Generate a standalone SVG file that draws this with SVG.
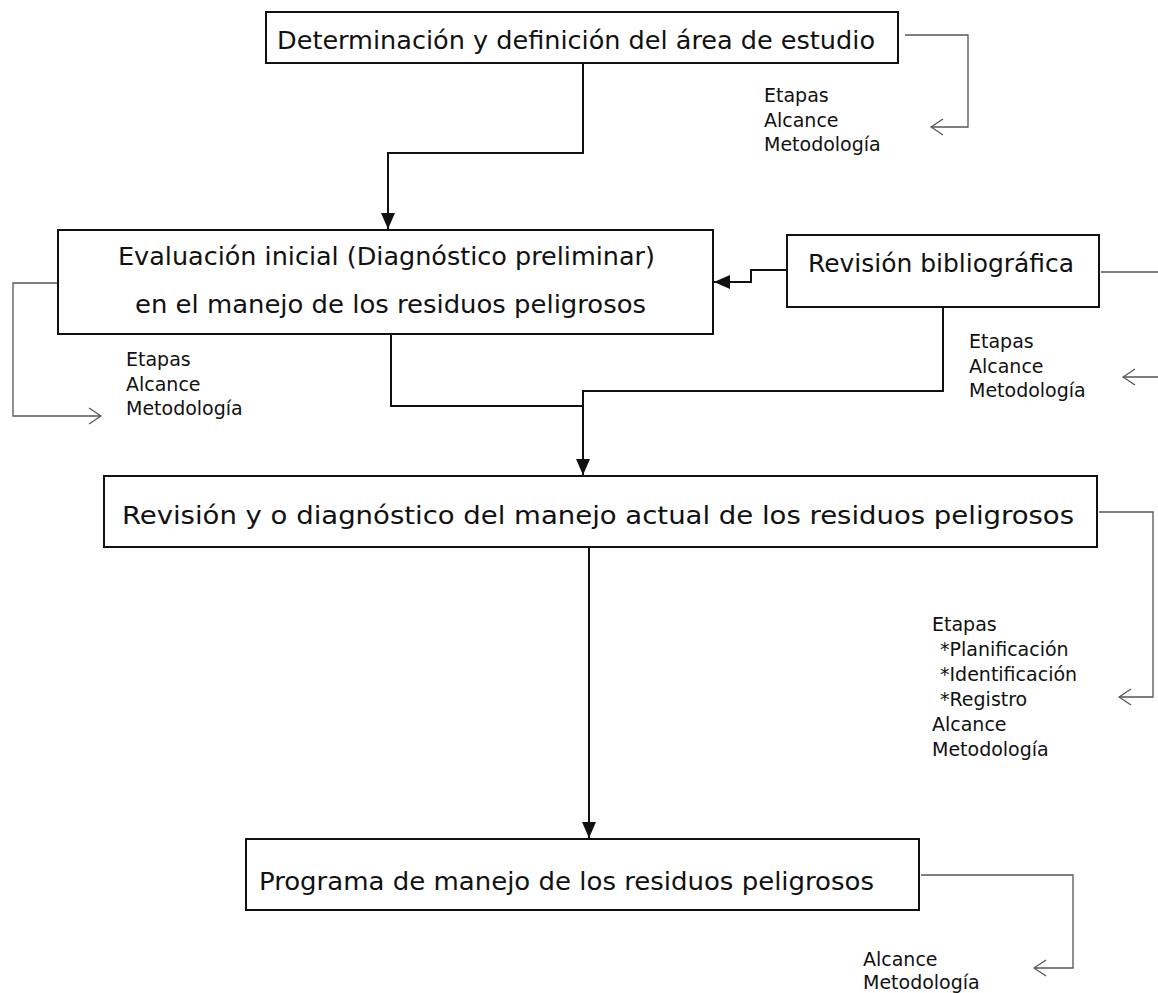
<svg xmlns="http://www.w3.org/2000/svg" width="1158" height="993" viewBox="0 0 1158 993">
<style>
.box{fill:#fff;stroke:#111;stroke-width:2}
.main{fill:none;stroke:#111;stroke-width:2}
.thin{fill:none;stroke:#555;stroke-width:1.3}
.t{font-family:"DejaVu Sans","Verdana",sans-serif;fill:#111}
.tc{font-family:"DejaVu Sans","Verdana",sans-serif;font-stretch:condensed;fill:#111;font-size:24px}
.lb{font-family:"DejaVu Sans","Verdana",sans-serif;fill:#111;font-size:19px}
</style>
<defs>
<marker id="fa" viewBox="0 0 16 14" refX="16" refY="7" markerWidth="16" markerHeight="14" markerUnits="userSpaceOnUse" orient="auto">
<path d="M0,0 L16,7 L0,14 z" fill="#111"/>
</marker>
<marker id="oa" viewBox="0 0 14 18" refX="13" refY="9" markerWidth="14" markerHeight="18" markerUnits="userSpaceOnUse" orient="auto">
<path d="M1,1 L13,9 L1,17" fill="none" stroke="#555" stroke-width="1.3"/>
</marker>
</defs>
<g id="connectors">
<path class="main" d="M583,63 V153 H388 V229" marker-end="url(#fa)"/>
<path class="main" d="M787,270 H751 V282 H714" marker-end="url(#fa)"/>
<path class="main" d="M391,334 V406 H583"/>
<path class="main" d="M943,307 V391 H583 V475" marker-end="url(#fa)"/>
<path class="main" d="M589,547 V838" marker-end="url(#fa)"/>
<path class="thin" d="M905,35 H968 V127 H931" marker-end="url(#oa)"/>
<path class="thin" d="M58,283 H13 V416 H101" marker-end="url(#oa)"/>
<path class="thin" d="M1101,272 H1158"/>
<path class="thin" d="M1158,377 H1123" marker-end="url(#oa)"/>
<path class="thin" d="M1099,512 H1153 V697 H1119" marker-end="url(#oa)"/>
<path class="thin" d="M921,875 H1073 V968 H1034" marker-end="url(#oa)"/>
</g>
<g id="n1">
<rect class="box" x="266" y="12" width="632" height="51"/>
<text class="tc" x="277" y="49" textLength="598" lengthAdjust="spacingAndGlyphs">Determinación y definición del área de estudio</text>
</g>
<g id="l1">
<text class="lb" x="764" y="102">Etapas</text>
<text class="lb" x="764" y="127">Alcance</text>
<text class="lb" x="764" y="151">Metodología</text>
</g>
<g id="n2">
<rect class="box" x="58" y="230" width="655" height="104"/>
<text class="t" font-size="25" x="118" y="265" textLength="537" lengthAdjust="spacingAndGlyphs">Evaluación inicial (Diagnóstico preliminar)</text>
<text class="t" font-size="25" x="135" y="313" textLength="511" lengthAdjust="spacingAndGlyphs">en el manejo de los residuos peligrosos</text>
</g>
<g id="l2">
<text class="lb" x="126" y="366">Etapas</text>
<text class="lb" x="126" y="391">Alcance</text>
<text class="lb" x="126" y="415">Metodología</text>
</g>
<g id="n3">
<rect class="box" x="787" y="235" width="312" height="72"/>
<text class="t" font-size="25" x="808" y="272" textLength="266" lengthAdjust="spacingAndGlyphs">Revisión bibliográfica</text>
</g>
<g id="l3">
<text class="lb" x="969" y="348">Etapas</text>
<text class="lb" x="969" y="373">Alcance</text>
<text class="lb" x="969" y="397">Metodología</text>
</g>
<g id="n4">
<rect class="box" x="104" y="476" width="993" height="71"/>
<text class="tc" x="122" y="524" textLength="952" lengthAdjust="spacingAndGlyphs">Revisión y o diagnóstico del manejo actual de los residuos peligrosos</text>
</g>
<g id="l4">
<text class="lb" x="932" y="631">Etapas</text>
<text class="lb" x="940" y="656">*Planificación</text>
<text class="lb" x="940" y="681">*Identificación</text>
<text class="lb" x="940" y="706">*Registro</text>
<text class="lb" x="932" y="731">Alcance</text>
<text class="lb" x="932" y="756">Metodología</text>
</g>
<g id="n5">
<rect class="box" x="246" y="839" width="673" height="71"/>
<text class="tc" x="259" y="890" textLength="615" lengthAdjust="spacingAndGlyphs">Programa de manejo de los residuos peligrosos</text>
</g>
<g id="l5">
<text class="lb" x="863" y="966">Alcance</text>
<text class="lb" x="863" y="989">Metodología</text>
</g>
</svg>
